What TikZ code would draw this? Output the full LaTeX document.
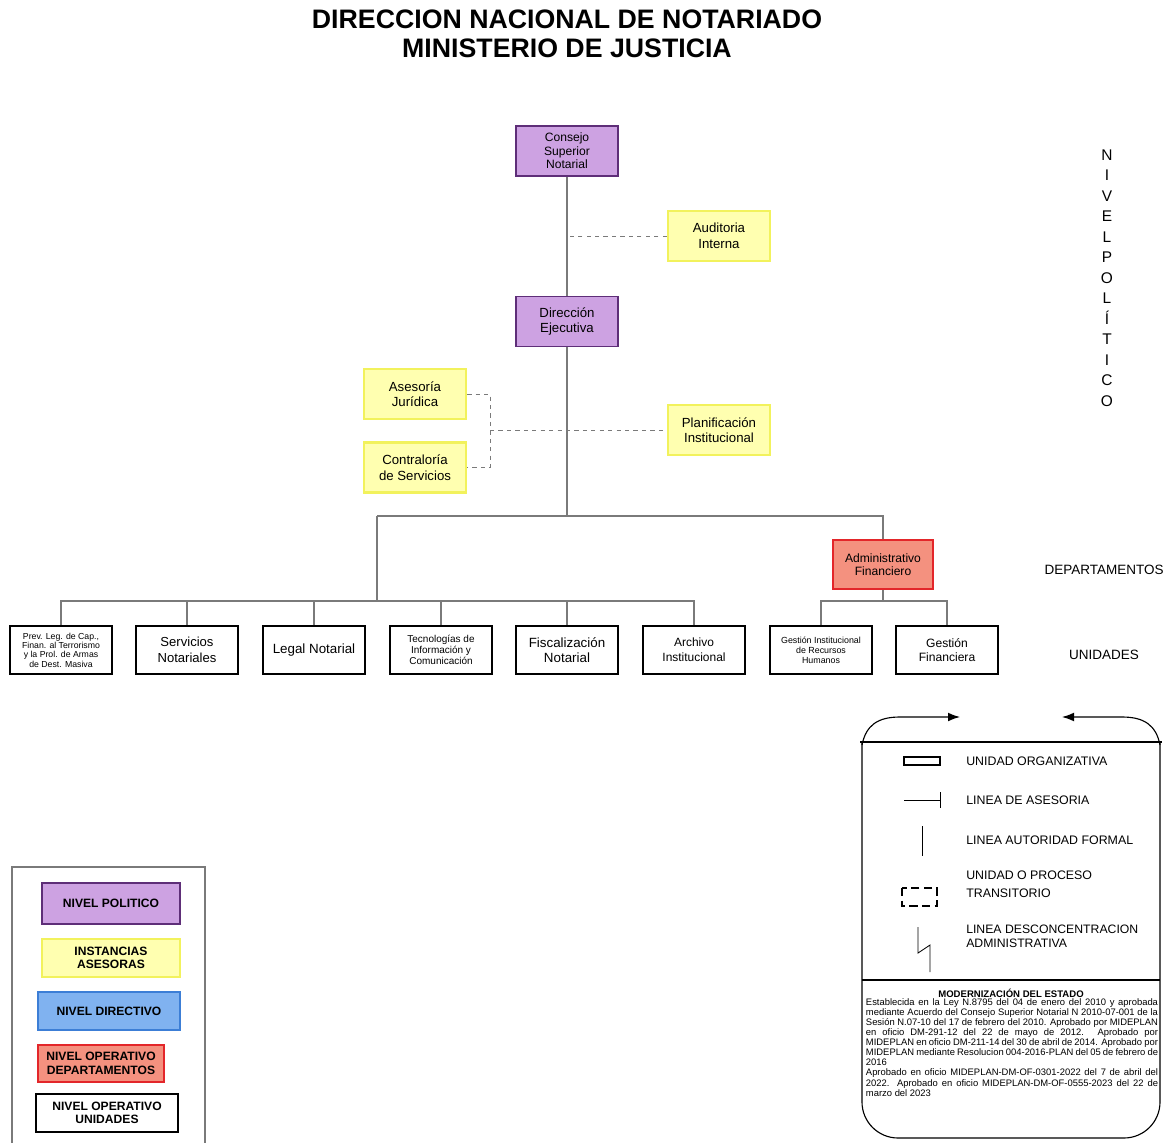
\documentclass[tikz,border=0pt]{standalone}
\usepackage{fontspec}
\setmainfont{Liberation Sans}
\usetikzlibrary{arrows.meta}
\definecolor{polfill}{HTML}{CDA2E2}
\definecolor{poldraw}{HTML}{5E2E78}
\definecolor{asefill}{HTML}{FFFFB0}
\definecolor{asedraw}{HTML}{F2F25C}
\definecolor{depfill}{HTML}{F4917F}
\definecolor{depdraw}{HTML}{E3262A}
\definecolor{dirfill}{HTML}{80B2F0}
\definecolor{dirdraw}{HTML}{3C7ED6}
\definecolor{linea}{HTML}{7A7A7A}
\tikzset{caja/.style={rectangle, draw, align=center, inner sep=1pt,
minimum width=2.55cm, minimum height=1.25cm, font=\fontsize{8.6}{9.6}\selectfont}}
\tikzset{politico/.style={caja, fill=polfill, draw=poldraw, line width=1.4pt}}
\tikzset{asesora/.style={caja, fill=asefill, draw=asedraw, line width=1.8pt, font=\fontsize{9.4}{11}\selectfont}}
\tikzset{depto/.style={caja, fill=depfill, draw=depdraw, line width=1.4pt, minimum width=2.5cm, minimum height=1.22cm}}
\tikzset{unidad/.style={caja, fill=white, draw=black, line width=1.8pt, minimum height=1.2cm}}
\tikzset{mando/.style={draw=linea, line width=1pt}}
\tikzset{asesoria line/.style={draw=linea, dashed, line width=.6pt}}
\tikzset{leyenda/.style={rectangle, draw, align=center, inner sep=1pt, line width=1.4pt,
font=\bfseries\fontsize{8.6}{9.6}\selectfont}}
\tikzset{textoley/.style={anchor=west, align=left, inner sep=0pt, font=\fontsize{8.8}{12.8}\selectfont}}

\begin{document}
\begin{tikzpicture}[x=0.025cm, y=-0.025cm]
\useasboundingbox (0,0) rectangle (1171,1143);

\node [align=center, font=\bfseries\fontsize{19}{20.5}\selectfont] (titulo) at (567,34)
  {DIRECCION NACIONAL DE NOTARIADO\\MINISTERIO DE JUSTICIA};

% nivel politico y asesor
\node [politico] (consejo) at (567,151) {Consejo\\Superior\\Notarial};
\node [asesora] (auditoria) at (719,236) {Auditoria\\Interna};
\node [politico, font=\fontsize{9.4}{11}\selectfont] (direccion) at (567,321.5) {Dirección\\Ejecutiva};
\node [asesora] (asesoria) at (415,394) {Asesoría\\Jurídica};
\node [asesora] (contraloria) at (415,467.5) {Contraloría\\de Servicios};
\node [asesora] (planif) at (719,430) {Planificación\\Institucional};

% departamento
\node [depto] (admfin) at (883,564.5) {Administrativo\\Financiero};

% unidades
\node [unidad, font=\fontsize{6.2}{6.6}\selectfont] (prev) at (61,650)
  {Prev. Leg. de Cap.,\\Finan. al Terrorismo\\y la Prol. de Armas\\de Dest. Masiva};
\node [unidad, font=\fontsize{9.3}{11}\selectfont] (servicios) at (187,650) {Servicios\\Notariales};
\node [unidad, font=\fontsize{9.5}{11}\selectfont] (legal) at (314,650) {Legal Notarial};
\node [unidad, font=\fontsize{7.1}{7.8}\selectfont] (tecno) at (441,650) {Tecnologías de\\Información y\\Comunicación};
\node [unidad, font=\fontsize{9.5}{11}\selectfont] (fiscal) at (567,650) {Fiscalización\\Notarial};
\node [unidad, font=\fontsize{8.5}{10.5}\selectfont] (archivo) at (694,650) {Archivo\\Institucional};
\node [unidad, font=\fontsize{6.3}{7}\selectfont] (rrhh) at (821,650) {Gestión Institucional\\de Recursos\\Humanos};
\node [unidad, font=\fontsize{8.6}{10.5}\selectfont] (gfin) at (947,650) {Gestión\\Financiera};

% lineas de mando
\coordinate (jL) at (377,516);
\coordinate (jR) at (883,516);
\coordinate (bus) at (377,601);
\coordinate (bus2) at (883,601);
\coordinate (brk) at (490,430);

\draw [mando] (consejo) -- (direccion);
\draw [mando] (direccion) -- (direccion |- jL);
\draw [mando] (jL) -- (jR) -- (admfin);
\draw [mando] (jL) -- (bus);
\draw [mando] (prev.north) |- (archivo.north |- bus) -- (archivo.north);
\draw [mando] (servicios.north) -- (servicios.north |- bus);
\draw [mando] (legal.north) -- (legal.north |- bus);
\draw [mando] (tecno.north) -- (tecno.north |- bus);
\draw [mando] (fiscal.north) -- (fiscal.north |- bus);
\draw [mando] (admfin) -- (bus2);
\draw [mando] (rrhh.north) |- (gfin.north |- bus2) -- (gfin.north);

% lineas de asesoria
\draw [asesoria line] (auditoria.west) -- (auditoria.west -| consejo);
\draw [asesoria line] (asesoria.east) -| (brk) |- (contraloria.east);
\draw [asesoria line] (brk) -- (planif.west);

% niveles
\node [align=center, inner sep=0pt, font=\fontsize{11}{14.6}\selectfont] (nivpol) at (1107,278)
  {N\\I\\V\\E\\L\\P\\O\\L\\Í\\T\\I\\C\\O};
\node [font=\fontsize{9.6}{11}\selectfont] (nivdep) at (1104,570) {DEPARTAMENTOS};
\node [font=\fontsize{9.6}{11}\selectfont] (nivuni) at (1104,655) {UNIDADES};

% simbologia
\draw [line width=.8pt] (860,742) -- (1162,742);
\draw [line width=.8pt, rounded corners=0.9cm] (862,742) -- (862,1138) -- (1160,1138) -- (1160,742);
\draw [line width=.8pt, -{Latex[length=3mm, width=2.2mm]}] (862,745) .. controls (866,725) and (878,717) .. (900,717) -- (960,717);
\draw [line width=.8pt, -{Latex[length=3mm, width=2.2mm]}] (1160,745) .. controls (1156,725) and (1144,717) .. (1122,717) -- (1062,717);
\draw [line width=.8pt] (862,980) -- (1160,980);

\draw [line width=.8pt] (904,757) rectangle (940,765);
\node [textoley] (t1) at (966,761) {UNIDAD ORGANIZATIVA};
\draw [line width=.6pt] (904,800) -- (940,800);
\draw [line width=.6pt] (940,792) -- (940,808);
\node [textoley] (t2) at (966,800) {LINEA DE ASESORIA};
\draw [line width=.6pt] (922,826) -- (922,856);
\node [textoley] (t3) at (966,840) {LINEA AUTORIDAD FORMAL};
\draw [line width=.8pt, dash pattern=on 6pt off 3pt] (902,888) rectangle (937,906);
\node [textoley] (t4) at (966,884) {UNIDAD O PROCESO\\TRANSITORIO};
\draw [line width=.6pt] (918,927) -- (918,953) -- (930,945) -- (930,972);
\node [textoley, font=\fontsize{8.7}{10}\selectfont] (t5) at (966,936) {LINEA DESCONCENTRACION\\ADMINISTRATIVA};

\node [font=\bfseries\fontsize{6.8}{8}\selectfont] (modtit) at (1011,993) {MODERNIZACIÓN DEL ESTADO};
\node [anchor=north, inner sep=0pt, text width=7.3cm, align=justify, font=\fontsize{6.7}{7.2}\selectfont]
  (modtxt) at (1012,998) {\hyphenpenalty=10000\relax\exhyphenpenalty=10000\relax\emergencystretch=2em\relax
  Establecida en la Ley N.8795 del 04 de enero del 2010 y aprobada mediante Acuerdo del Consejo Superior Notarial N 2010-07-001 de la Sesión N.07-10 del 17 de febrero del 2010. Aprobado por MIDEPLAN en oficio DM-291-12 del 22 de mayo de 2012. Aprobado por MIDEPLAN en oficio DM-211-14 del 30 de abril de 2014. Aprobado por MIDEPLAN mediante Resolucion 004-2016-PLAN del 05 de febrero de 2016\par
  Aprobado en oficio MIDEPLAN-DM-OF-0301-2022 del 7 de abril del 2022. Aprobado en oficio MIDEPLAN-DM-OF-0555-2023 del 22 de marzo del 2023};

% leyenda de colores
\draw [draw=linea, line width=.8pt] (12,1145) -- (12,867) -- (205,867) -- (205,1145);
\node [leyenda, fill=polfill, draw=poldraw, minimum width=3.45cm, minimum height=1.02cm] (lpol) at (111,903.5) {NIVEL POLITICO};
\node [leyenda, fill=asefill, draw=asedraw, line width=1.8pt, minimum width=3.45cm, minimum height=0.95cm] (lase) at (111,958) {INSTANCIAS\\ASESORAS};
\node [leyenda, fill=dirfill, draw=dirdraw, minimum width=3.55cm, minimum height=0.95cm] (ldir) at (109,1011) {NIVEL DIRECTIVO};
\node [leyenda, fill=depfill, draw=depdraw, minimum width=3.15cm, minimum height=0.92cm] (ldep) at (101,1063.5) {NIVEL OPERATIVO\\DEPARTAMENTOS};
\node [leyenda, fill=white, draw=black, minimum width=3.55cm, minimum height=0.95cm] (luni) at (107,1113) {NIVEL OPERATIVO\\UNIDADES};

\end{tikzpicture}
\end{document}
